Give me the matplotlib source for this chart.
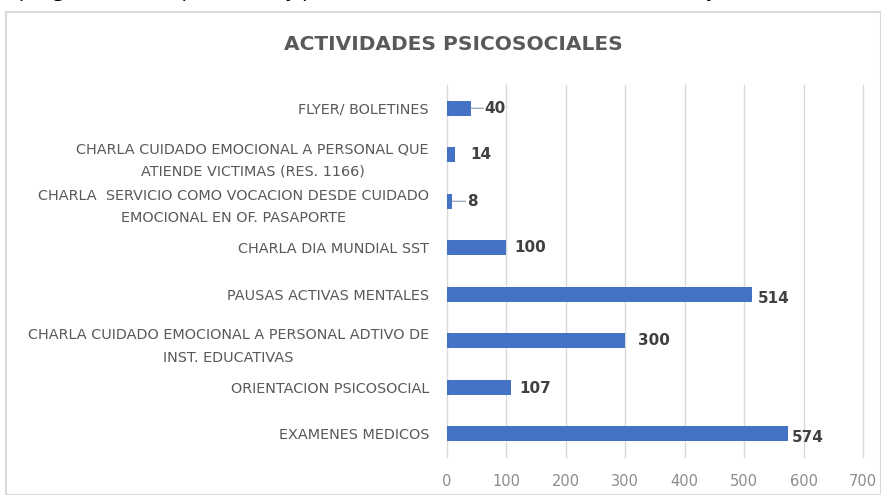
import matplotlib.pyplot as plt
from matplotlib.patches import Rectangle

plt.rcParams['font.family'] = ['DejaVu Sans']

# categories from bottom to top
categorias = [
    'EXAMENES MEDICOS',
    'ORIENTACION PSICOSOCIAL',
    'CHARLA CUIDADO EMOCIONAL A PERSONAL ADTIVO DE\nINST. EDUCATIVAS',
    'PAUSAS ACTIVAS MENTALES',
    'CHARLA DIA MUNDIAL SST',
    'CHARLA  SERVICIO COMO VOCACION DESDE CUIDADO\nEMOCIONAL EN OF. PASAPORTE',
    'CHARLA CUIDADO EMOCIONAL A PERSONAL QUE\nATIENDE VICTIMAS (RES. 1166)',
    'FLYER/ BOLETINES',
]
valores = [574, 107, 300, 514, 100, 8, 14, 40]
ticks_x = [0, 100, 200, 300, 400, 500, 600, 700]

titulo = 'ACTIVIDADES PSICOSOCIALES'
texto_superior = 'os programas de capacitación y promoción en salud mental, autocuidado y Generación'

# label offsets in points (dx, dy) and whether a leader line is drawn
offsets = [(3, -3), (6, -1), (9, 0), (4, -3), (6, 0), (11, 0), (11, 0), (10, 0)]
lider = [False, False, False, False, False, True, False, True]

fig = plt.figure(figsize=(8.81, 4.95), dpi=100)

# chart frame
fig.patches.append(Rectangle((6 / 881, 0), 875 / 881, 1 - 12 / 495,
                             transform=fig.transFigure, fill=False,
                             edgecolor='#d9d9d9', linewidth=1.5))
fig.text(-0.01, 1.019, texto_superior, fontsize=15, color='black',
         ha='left', va='center', family='Open Sans')

ax = fig.add_axes([447 / 881, 1 - 457 / 495, 416 / 881, 372 / 495])
y = list(range(len(categorias)))
ax.barh(y, valores, height=0.33, color='#4472c4')
ax.set_ylim(-0.5, len(categorias) - 0.5)
ax.set_xlim(0, 700)
ax.set_xticks(ticks_x)
ax.set_yticks(y)
ax.set_yticklabels(categorias, multialignment='center', fontsize=10.4,
                   color='#595959')
for t in ax.get_yticklabels():
    t.set_linespacing(1.75)
ax.tick_params(axis='x', labelsize=10.5, colors='#8c8c8c', length=0, pad=12)
ax.tick_params(axis='y', length=0, pad=13)
ax.grid(axis='x', color='#d9d9d9', linewidth=1)
for g in ax.get_xgridlines():
    g.set_clip_on(False)
ax.set_axisbelow(True)
for s in ax.spines.values():
    s.set_visible(False)

for yi, v, (dx, dy), ld in zip(y, valores, offsets, lider):
    ax.annotate(str(v), xy=(v, yi), xytext=(dx, dy), textcoords='offset points',
                ha='left', va='center', fontsize=11, fontweight='bold',
                color='#404040')
    if ld:
        ax.annotate('', xy=(v, yi), xytext=(dx - 1, 0), textcoords='offset points',
                    arrowprops=dict(arrowstyle='-', color='#8497b0', lw=0.8,
                                    shrinkA=0, shrinkB=0))

fig.text(453 / 881, 1 - 45 / 495, titulo, fontsize=14.5, fontweight='bold',
         color='#595959', ha='center', va='center')

fig.savefig('out.png', dpi=100)
